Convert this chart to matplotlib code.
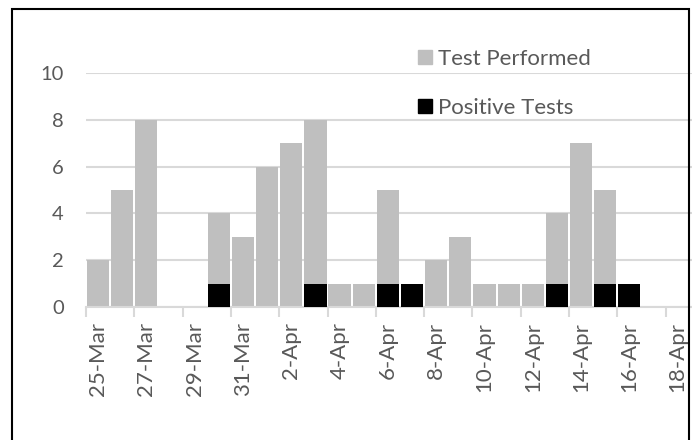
import matplotlib
matplotlib.use("Agg")
import matplotlib.pyplot as plt
from matplotlib.patches import Rectangle, Patch

days = ['25-Mar', '26-Mar', '27-Mar', '28-Mar', '29-Mar', '30-Mar', '31-Mar',
        '1-Apr', '2-Apr', '3-Apr', '4-Apr', '5-Apr', '6-Apr', '7-Apr', '8-Apr',
        '9-Apr', '10-Apr', '11-Apr', '12-Apr', '13-Apr', '14-Apr', '15-Apr',
        '16-Apr', '17-Apr', '18-Apr']
tests = [2, 5, 8, 0, 0, 4, 3, 6, 7, 8, 1, 1, 5, 1, 2, 3, 1, 1, 1, 4, 7, 5, 1, 0, 0]
positive = [0, 0, 0, 0, 0, 1, 0, 0, 0, 1, 0, 0, 1, 1, 0, 0, 0, 0, 0, 1, 0, 1, 1, 0, 0]
yticks = [0, 2, 4, 6, 8, 10]

txt = '#595959'
grid = '#d9d9d9'
font = ['Lato', 'DejaVu Sans']

W, H = 692, 440
fig = plt.figure(figsize=(W / 100, H / 100), dpi=100)
ax = fig.add_axes([86 / W, (H - 307) / H, (W - 86) / W, (307 - 73) / H])

x = list(range(len(days)))
ax.bar(x, tests, width=0.92, color='#bfbfbf', zorder=2)
ax.bar(x, positive, width=0.92, color='black', zorder=3)

ax.set_xlim(-0.5, -0.5 + (W - 86) / 24.15)
ax.set_ylim(0, 10)
ax.set_yticks(yticks)
ax.set_yticklabels([str(v) for v in yticks], family=font, fontsize=14.5, color=txt)
ax.tick_params(axis='y', length=0, pad=16)
ax.yaxis.grid(True, color=grid, lw=1.5, zorder=0)
ax.set_axisbelow(True)

# date labels in the middle of every other day, ticks on the slot edges
ax.set_xticks(x[::2])
ax.set_xticklabels(days[::2], rotation=90, fontsize=16, color=txt, family=font)
ax.set_xticks([i - 0.5 for i in x[::2]], minor=True)
ax.tick_params(axis='x', which='major', length=0, pad=11)
ax.tick_params(axis='x', which='minor', length=7, width=1.5, color=grid)

for s in ['top', 'right', 'left']:
    ax.spines[s].set_visible(False)
ax.spines['bottom'].set_color(grid)
ax.spines['bottom'].set_linewidth(1.5)

handles = [Patch(color='#bfbfbf'), Patch(color='black')]
fig.legend(handles, ['Test Performed', 'Positive Tests'], loc='upper left',
           bbox_to_anchor=(409 / W, 1 - 40 / H), frameon=False,
           prop={'family': font, 'size': 16}, labelcolor=txt,
           handlelength=0.65, handleheight=0.65, handletextpad=0.25,
           labelspacing=1.3, borderaxespad=0)

fig.patches.append(Rectangle((12 / W, -0.1), (689 - 12) / W, 1.1 - 9 / H,
                             transform=fig.transFigure, fill=False,
                             edgecolor='black', lw=1.5))

fig.savefig('out.png', dpi=100)
